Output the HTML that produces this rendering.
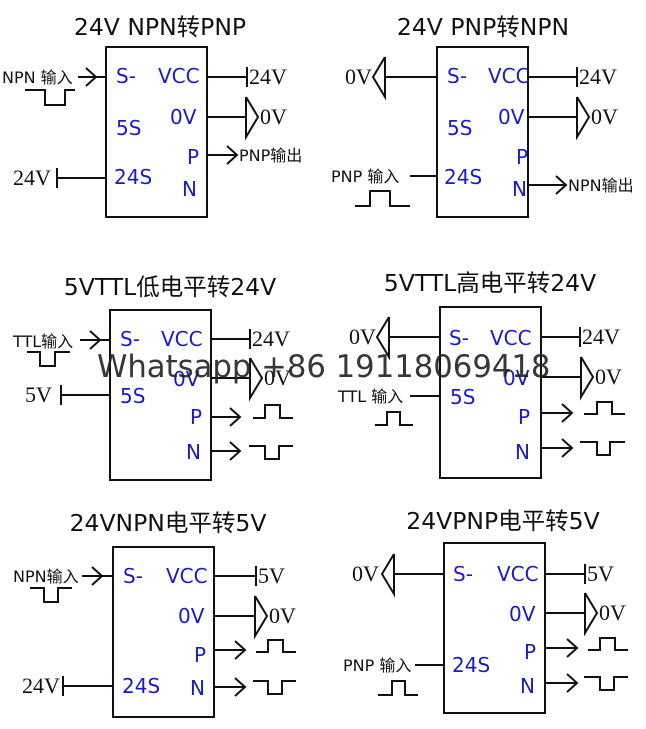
<!DOCTYPE html>
<html><head><meta charset="utf-8"><style>
html,body{margin:0;padding:0;background:#fff;}
svg{display:block}
.t{font-family:"DejaVu Sans","Noto Sans CJK SC",sans-serif;font-size:23.5px;fill:#111}
.b{font-family:"DejaVu Sans",sans-serif;font-size:20px;fill:#1a1acc}
.s{font-family:"Liberation Serif",serif;font-size:22px;fill:#111}
.l{font-family:"DejaVu Sans","Noto Sans CJK SC",sans-serif;font-size:16px;fill:#111}
.w{font-family:"DejaVu Sans",sans-serif;font-size:30.7px;fill:#222;opacity:.9}
line,polyline,rect{stroke:#111;stroke-width:2;fill:none}
</style></head><body>
<svg width="646" height="729" viewBox="0 0 646 729" xmlns="http://www.w3.org/2000/svg">
<!-- Panel 1 -->
<text class="t" x="160" y="35" text-anchor="middle">24V NPN转PNP</text>
<rect x="106" y="47" width="101" height="170"/>
<text class="b" x="116" y="83">S-</text><text class="b" x="158" y="83">VCC</text>
<text class="b" x="116" y="135">5S</text><text class="b" x="170" y="124">0V</text>
<text class="b" x="114" y="184">24S</text><text class="b" x="187" y="164">P</text><text class="b" x="182" y="196">N</text>
<line x1="207" y1="77" x2="247" y2="77"/><line x1="247" y1="67" x2="247" y2="87"/><text class="s" x="249" y="84">24V</text>
<line x1="207" y1="117" x2="246" y2="117"/><polyline points="246,97 246,137 258,117 246,97"/><text class="s" x="260" y="124">0V</text>
<line x1="207" y1="155" x2="237" y2="155"/><polyline points="227,146 237,155 227,164"/><text class="l" x="239" y="161">PNP输出</text>
<text class="l" x="2" y="83">NPN 输入</text>
<line x1="78" y1="77" x2="106" y2="77"/><polyline points="86,68 96,77 86,86"/>
<polyline points="25,90 45,90 45,105 65,105 65,90 75,90"/>
<text class="s" x="13" y="185">24V</text><line x1="57" y1="168" x2="57" y2="188"/><line x1="57" y1="178" x2="106" y2="178"/>

<!-- Panel 2 -->
<text class="t" x="483" y="35" text-anchor="middle">24V PNP转NPN</text>
<rect x="437" y="47" width="91" height="170"/>
<text class="b" x="447" y="83">S-</text><text class="b" x="488" y="83">VCC</text>
<text class="b" x="447" y="135">5S</text><text class="b" x="498" y="124">0V</text>
<text class="b" x="444" y="184">24S</text><text class="b" x="516" y="164">P</text><text class="b" x="512" y="196">N</text>
<text class="s" x="345" y="84">0V</text><polyline points="385,57 385,97 373,77 385,57"/><line x1="385" y1="77" x2="437" y2="77"/>
<line x1="528" y1="77" x2="577" y2="77"/><line x1="577" y1="67" x2="577" y2="87"/><text class="s" x="579" y="84">24V</text>
<line x1="528" y1="117" x2="577" y2="117"/><polyline points="577,97 577,137 589,117 577,97"/><text class="s" x="591" y="124">0V</text>
<line x1="528" y1="185" x2="566" y2="185"/><polyline points="556,176 566,185 556,194"/><text class="l" x="568" y="191">NPN输出</text>
<text class="l" x="331" y="182">PNP 输入</text><line x1="410" y1="176" x2="437" y2="176"/>
<polyline points="355,206 370,206 370,191 390,191 390,206 410,206"/>

<!-- Panel 3 -->
<text class="t" x="170" y="295" text-anchor="middle">5VTTL低电平转24V</text>
<rect x="110" y="310" width="101" height="170"/>
<text class="b" x="120" y="346">S-</text><text class="b" x="161" y="346">VCC</text>
<text class="b" x="173" y="386">0V</text><text class="b" x="120" y="403">5S</text>
<text class="b" x="190" y="424">P</text><text class="b" x="186" y="459">N</text>
<line x1="211" y1="339" x2="250" y2="339"/><line x1="250" y1="329" x2="250" y2="349"/><text class="s" x="252" y="346">24V</text>
<line x1="211" y1="378" x2="250" y2="378"/><polyline points="250,358 250,398 262,378 250,358"/><text class="s" x="264" y="385">0V</text>
<line x1="211" y1="417" x2="240" y2="417"/><polyline points="230,408 240,417 230,426"/>
<polyline points="253,418 265,418 265,405 280,405 280,418 293,418"/>
<line x1="211" y1="451" x2="240" y2="451"/><polyline points="230,442 240,451 230,460"/>
<polyline points="249,446 265,446 265,459 279,459 279,446 293,446"/>
<text class="l" x="13" y="347">TTL输入</text><line x1="80" y1="340" x2="110" y2="340"/><polyline points="90,331 100,340 90,349"/>
<polyline points="27,352 40,352 40,366 55,366 55,352 70,352"/>
<text class="s" x="25" y="402">5V</text><line x1="61" y1="385" x2="61" y2="405"/><line x1="61" y1="395" x2="110" y2="395"/>

<!-- Panel 4 -->
<text class="t" x="490" y="291" text-anchor="middle">5VTTL高电平转24V</text>
<rect x="440" y="307" width="101" height="171"/>
<text class="b" x="449" y="345">S-</text><text class="b" x="490" y="345">VCC</text>
<text class="b" x="503" y="385">0V</text><text class="b" x="450" y="404">5S</text>
<text class="b" x="518" y="424">P</text><text class="b" x="515" y="459">N</text>
<text class="s" x="349" y="344">0V</text><polyline points="389,317 389,357 377,337 389,317"/><line x1="389" y1="337" x2="440" y2="337"/>
<line x1="541" y1="337" x2="580" y2="337"/><line x1="580" y1="327" x2="580" y2="347"/><text class="s" x="582" y="344">24V</text>
<line x1="541" y1="377" x2="581" y2="377"/><polyline points="581,357 581,397 593,377 581,357"/><text class="s" x="595" y="384">0V</text>
<line x1="541" y1="413" x2="572" y2="413"/><polyline points="562,404 572,413 562,422"/>
<polyline points="584,414 597,414 597,402 612,402 612,414 625,414"/>
<line x1="541" y1="448" x2="572" y2="448"/><polyline points="562,439 572,448 562,457"/>
<polyline points="580,442 597,442 597,455 610,455 610,442 625,442"/>
<text class="l" x="338" y="402">TTL 输入</text><line x1="410" y1="396" x2="440" y2="396"/>
<polyline points="375,425 387,425 387,412 400,412 400,425 413,425"/>

<!-- Panel 5 -->
<text class="t" x="168" y="531" text-anchor="middle">24VNPN电平转5V</text>
<rect x="113" y="547" width="101" height="170"/>
<text class="b" x="123" y="583">S-</text><text class="b" x="166" y="583">VCC</text>
<text class="b" x="178" y="623">0V</text><text class="b" x="122" y="693">24S</text>
<text class="b" x="194" y="662">P</text><text class="b" x="190" y="695">N</text>
<line x1="214" y1="576" x2="256" y2="576"/><line x1="256" y1="566" x2="256" y2="586"/><text class="s" x="258" y="583">5V</text>
<line x1="214" y1="616" x2="255" y2="616"/><polyline points="255,596 255,636 267,616 255,596"/><text class="s" x="269" y="623">0V</text>
<line x1="214" y1="650" x2="245" y2="650"/><polyline points="235,641 245,650 235,659"/>
<polyline points="256,652 268,652 268,640 283,640 283,652 296,652"/>
<line x1="214" y1="687" x2="245" y2="687"/><polyline points="235,678 245,687 235,696"/>
<polyline points="253,681 268,681 268,694 282,694 282,681 296,681"/>
<text class="l" x="13" y="582">NPN输入</text><line x1="82" y1="576" x2="113" y2="576"/><polyline points="92,567 102,576 92,585"/>
<polyline points="30,588 44,588 44,602 58,602 58,588 72,588"/>
<text class="s" x="22" y="693">24V</text><line x1="63" y1="676" x2="63" y2="696"/><line x1="63" y1="686" x2="113" y2="686"/>

<!-- Panel 6 -->
<text class="t" x="503" y="529" text-anchor="middle">24VPNP电平转5V</text>
<rect x="444" y="543" width="101" height="170"/>
<text class="b" x="453" y="581">S-</text><text class="b" x="497" y="581">VCC</text>
<text class="b" x="509" y="621">0V</text><text class="b" x="452" y="672">24S</text>
<text class="b" x="524" y="659">P</text><text class="b" x="520" y="693">N</text>
<text class="s" x="352" y="581">0V</text><polyline points="394,554 394,594 382,574 394,554"/><line x1="394" y1="574" x2="444" y2="574"/>
<line x1="545" y1="574" x2="585" y2="574"/><line x1="585" y1="564" x2="585" y2="584"/><text class="s" x="587" y="581">5V</text>
<line x1="545" y1="613" x2="585" y2="613"/><polyline points="585,593 585,633 597,613 585,593"/><text class="s" x="599" y="620">0V</text>
<line x1="545" y1="648" x2="577" y2="648"/><polyline points="567,639 577,648 567,657"/>
<polyline points="588,650 600,650 600,638 615,638 615,650 628,650"/>
<line x1="545" y1="683" x2="577" y2="683"/><polyline points="567,674 577,683 567,692"/>
<polyline points="584,677 600,677 600,690 614,690 614,677 628,677"/>
<text class="l" x="343" y="671">PNP 输入</text><line x1="415" y1="665" x2="444" y2="665"/>
<polyline points="378,695 392,695 392,681 405,681 405,695 418,695"/>

<text class="w" x="97" y="377">Whatsapp  +86 19118069418</text>
</svg>
</body></html>
